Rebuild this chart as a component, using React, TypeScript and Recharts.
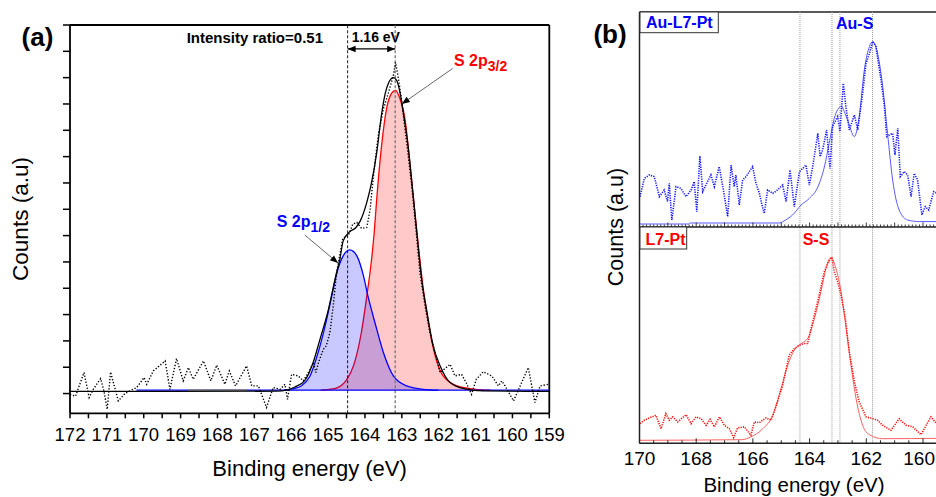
import React from 'react';
import { ComposedChart, Line, Area, XAxis, YAxis, ReferenceLine } from 'recharts';

// ---------------- Panel (a) data : [binding energy (eV), counts (a.u.)] ----------------
const rawA: number[][] = [
  [172.0, -0.03], [171.85, -0.1], [171.62, 0.8], [171.48, -0.15], [171.37, 0.16], [171.17, 0.57], [171.08, 0.1],
  [170.99, -0.6], [170.9, 0.82], [170.69, -0.28], [170.51, 0.0], [170.35, 0.12], [170.19, 0.23], [169.99, 0.61],
  [169.92, 0.35], [169.74, 0.86], [169.42, 1.24], [169.29, 0.16], [169.11, 1.33], [168.93, 0.48], [168.79, 0.99],
  [168.66, 0.54], [168.38, 1.24], [168.18, 0.48], [168.02, 1.08], [167.8, 0.35], [167.68, 0.86], [167.51, 0.29],
  [167.21, 1.05], [167.07, 0.29], [166.89, 0.29], [166.67, -0.53], [166.49, 0.23], [166.3, 0.16], [166.17, 0.35],
  [166.1, -0.22], [165.99, 0.73], [165.81, 0.67], [165.67, 0.48], [165.49, 0.92], [165.4, 1.18], [165.33, 0.8],
  [165.26, 1.18], [165.13, 1.68], [165.05, 1.81], [164.95, 2.32], [164.86, 3.33], [164.77, 4.6], [164.6, 5.9],
  [164.45, 6.0], [164.33, 6.44], [164.22, 6.5], [164.09, 6.27], [163.95, 6.31], [163.86, 7.0], [163.77, 8.27],
  [163.64, 9.8], [163.5, 10.81], [163.36, 11.44], [163.23, 12.08], [163.17, 12.58], [163.09, 11.95], [163.0, 11.06],
  [162.87, 9.54], [162.73, 7.89], [162.6, 5.99], [162.51, 4.6], [162.37, 3.33], [162.24, 2.32], [162.1, 1.56],
  [161.96, 0.8], [161.83, 0.95], [161.69, 1.11], [161.56, 0.67], [161.38, 0.73], [161.25, 0.4], [161.11, -0.03],
  [160.98, 0.54], [160.79, 0.83], [160.56, 0.67], [160.38, 0.29], [160.29, 0.48], [160.2, 0.29], [159.97, -0.28],
  [159.79, 0.29], [159.57, 0.99], [159.39, -0.34], [159.25, 0.29], [159.03, 0.35],
];

const envelopeA: number[][] = [
  [172.0, 0.08], [166.4, 0.09], [166.1, 0.14], [165.9, 0.25], [165.63, 0.5], [165.4, 1.2], [165.22, 2.06],
  [164.99, 3.2], [164.81, 4.35], [164.68, 5.1], [164.59, 5.8], [164.41, 6.15], [164.25, 6.3], [164.13, 6.55],
  [163.95, 7.26], [163.82, 8.02], [163.68, 9.16], [163.55, 10.6], [163.45, 11.4], [163.36, 11.8], [163.23, 12.0],
  [163.14, 11.9], [163.05, 11.44], [162.96, 10.68], [162.82, 9.29], [162.69, 7.5], [162.55, 5.5], [162.45, 4.2],
  [162.33, 3.2], [162.15, 1.81], [161.96, 1.05], [161.69, 0.42], [161.3, 0.18], [160.8, 0.1], [159.0, 0.08],
];

const s2p32: number[][] = [
  [165.2, 0.13], [164.8, 0.2], [164.5, 0.52], [164.3, 1.1], [164.1, 2.3], [163.95, 3.7], [163.82, 5.1],
  [163.75, 6.1], [163.68, 7.4], [163.55, 9.4], [163.41, 10.85], [163.28, 11.4], [163.17, 11.52], [163.05, 11.2],
  [162.91, 10.4], [162.78, 8.7], [162.64, 6.8], [162.42, 4.0], [162.28, 2.7], [162.1, 1.45], [161.88, 0.67],
  [161.5, 0.29], [161.0, 0.16], [160.6, 0.13],
];

const s2p12: number[][] = [
  [166.2, 0.13], [165.9, 0.2], [165.72, 0.3], [165.49, 0.67], [165.27, 1.56], [165.08, 2.57], [164.9, 3.71],
  [164.77, 4.55], [164.59, 5.23], [164.41, 5.46], [164.22, 5.23], [164.04, 4.47], [163.91, 3.65], [163.73, 2.7],
  [163.5, 1.56], [163.23, 0.67], [162.87, 0.29], [162.42, 0.16], [162.0, 0.13],
];

const baselineBlueA: number[][] = [[170.2, 0.13], [159.0, 0.13]];
const baselineGreyA: number[][] = [[168.8, 0.13], [167.2, 0.13]];
const componentBase = 0.13;

const xTicksA = [159, 159.5, 160, 160.5, 161, 161.5, 162, 162.5, 163, 163.5, 164, 164.5, 165, 165.5, 166, 166.5,
  167, 167.5, 168, 168.5, 169, 169.5, 170, 170.5, 171, 171.5, 172];
const yTicksA = [0, 1, 2, 3, 4, 5, 6, 7, 8, 9, 10, 11, 12, 13, 14];
const peakLinesA = [164.47, 163.18];

// ---------------- Panel (b) data ----------------
const rawTop: number[][] = [
  [169.98, 1.52], [169.83, 2.43], [169.65, 2.6], [169.48, 2.52], [169.3, 1.52], [169.13, 1.85], [169.01, 1.27],
  [168.95, 2.18], [168.86, 0.35], [168.71, 2.02], [168.54, 1.93], [168.36, 1.52], [168.18, 1.85], [168.07, 2.27],
  [167.98, 0.77], [167.87, 3.55], [167.77, 1.77], [167.63, 2.18], [167.48, 2.6], [167.36, 2.02], [167.19, 3.02],
  [167.04, 1.85], [166.89, 0.52], [166.77, 3.1], [166.66, 2.02], [166.6, 2.6], [166.48, 1.1], [166.36, 2.35],
  [166.24, 2.52], [166.01, 3.02], [165.89, 2.18], [165.77, 1.68], [165.68, 1.1], [165.6, 0.68], [165.48, 1.85],
  [165.3, 1.68], [165.13, 1.85], [164.95, 2.1], [164.83, 1.27], [164.69, 2.85], [164.54, 1.02], [164.36, 2.77],
  [164.24, 2.93], [164.13, 3.1], [164.01, 2.1], [163.89, 3.02], [163.71, 4.68], [163.63, 3.52], [163.54, 3.85],
  [163.4, 4.85], [163.28, 2.93], [163.19, 5.02], [163.01, 5.52], [162.93, 4.77], [162.81, 7.18], [162.72, 6.02],
  [162.6, 4.85], [162.42, 5.6], [162.3, 4.85], [162.13, 6.68], [162.01, 8.18], [161.89, 8.68], [161.77, 9.27],
  [161.66, 9.02], [161.48, 7.35], [161.36, 6.02], [161.28, 4.52], [161.19, 4.6], [161.07, 4.68], [160.99, 3.6],
  [160.89, 4.93], [160.8, 2.52], [160.66, 2.77], [160.54, 2.6], [160.42, 1.52], [160.31, 2.68], [160.19, 2.35],
  [160.04, 0.6], [159.92, 1.02], [159.8, 0.85], [159.62, 1.77], [159.5, 1.68],
];

const fitTop: number[][] = [
  [170.0, 0.15], [168.26, 0.15], [168.22, 0.2], [165.07, 0.2], [164.85, 0.35], [164.6, 0.6], [164.3, 1.1],
  [164.01, 1.43], [163.71, 2.0], [163.48, 3.0], [163.31, 4.18], [163.13, 5.43], [162.89, 6.02], [162.66, 5.35],
  [162.42, 4.52], [162.25, 5.52], [162.07, 7.85], [161.89, 9.02], [161.77, 9.27], [161.63, 8.85], [161.42, 7.02],
  [161.25, 4.68], [161.07, 2.35], [160.84, 0.85], [160.54, 0.35], [160.13, 0.27], [159.4, 0.27],
];

const rawBottom: number[][] = [
  [169.98, 0.98], [169.83, 1.15], [169.65, 1.27], [169.42, 1.4], [169.24, 0.73], [169.07, 1.48], [168.95, 1.15],
  [168.83, 1.32], [168.65, 1.07], [168.36, 1.43], [168.18, 0.98], [168.01, 1.32], [167.83, 1.23], [167.65, 0.9],
  [167.51, 1.2], [167.36, 0.82], [167.18, 1.32], [167.01, 0.9], [166.83, 0.73], [166.68, 0.28], [166.54, 0.77],
  [166.3, 0.82], [166.07, 0.4], [165.95, 1.07], [165.77, 1.03], [165.54, 1.27], [165.36, 1.15], [165.19, 1.82],
  [164.95, 2.9], [164.72, 4.4], [164.54, 4.73], [164.36, 4.9], [164.19, 4.98], [164.07, 4.98], [163.89, 6.07],
  [163.66, 7.4], [163.48, 8.57], [163.33, 9.07], [163.21, 9.28], [163.13, 8.57], [163.01, 8.07], [162.89, 7.4],
  [162.74, 6.23], [162.6, 4.57], [162.42, 3.07], [162.25, 2.07], [162.01, 1.32], [161.77, 1.23], [161.6, 1.15],
  [161.42, 0.9], [161.13, 0.65], [160.84, 1.23], [160.6, 0.9], [160.36, 0.82], [160.07, 0.43], [159.89, 0.9],
  [159.72, 1.32], [159.54, 1.02],
];

const fitBottom: number[][] = [
  [170.0, 0.15], [166.4, 0.18], [166.07, 0.32], [165.65, 0.73], [165.3, 1.4], [165.01, 2.73], [164.77, 3.9],
  [164.54, 4.65], [164.3, 4.98], [164.07, 5.23], [163.83, 6.23], [163.6, 7.57], [163.42, 8.73], [163.25, 9.28],
  [163.07, 8.73], [162.89, 7.57], [162.71, 5.73], [162.54, 3.9], [162.36, 2.23], [162.13, 0.9], [161.89, 0.43],
  [161.42, 0.23], [159.4, 0.25],
];

const refLinesB = [164.34, 163.21, 162.93, 161.78];
const xLabelTicksB = [160, 162, 164, 166, 168, 170];
const xHalfTicksB = [159.5, 160, 160.5, 161, 161.5, 162, 162.5, 163, 163.5, 164, 164.5, 165, 165.5, 166, 166.5,
  167, 167.5, 168, 168.5, 169, 169.5, 170];
const xFineTicksB = Array.from({ length: 85 }, (_, i) => 159.5 + i * 0.125);

const toPts = (arr: number[][]) => arr.map(([e, v]) => ({ e, v }));

const FONT = '"Liberation Sans", Arial, sans-serif';

// ---------- custom tick renderers ----------
const TickA = (p: any) => {
  const { x, y, payload } = p;
  const v = payload.value as number;
  return (
    <g>
      <line x1={x} y1={y} x2={x} y2={y + 5} stroke="#000" strokeWidth={1.5} />
      {Number.isInteger(v) && (
        <text x={x} y={y + 28} textAnchor="middle" fontSize={18.5} fontFamily={FONT} fill="#000">
          {v}
        </text>
      )}
    </g>
  );
};

const TickAY = (p: any) => {
  const { x, y } = p;
  return <line x1={x} y1={y} x2={x - 7} y2={y} stroke="#000" strokeWidth={1.5} />;
};

const TickBTop = (p: any) => {
  const { x, y, payload } = p;
  const v = payload.value as number;
  const len = Number.isInteger(v) ? 4.5 : 2.5;
  return <line x1={x} y1={y} x2={x} y2={y - len} stroke="#222" strokeWidth={0.9} />;
};

const TickBBottom = (p: any) => {
  const { x, y, payload } = p;
  const v = payload.value as number;
  const isLabel = xLabelTicksB.includes(v);
  // the last label sits at the window edge: keep it fully inside
  const atEdge = v === xLabelTicksB[0];
  return (
    <g>
      <line x1={x} y1={y} x2={x} y2={y - (isLabel ? 5 : 3)} stroke="#222" strokeWidth={1} />
      {isLabel && (
        <text
          x={atEdge ? 935 - 580 : x}
          y={y + 21.8}
          textAnchor={atEdge ? 'end' : 'middle'}
          fontSize={19}
          fontFamily={FONT}
          fill="#000"
        >
          {v}
        </text>
      )}
    </g>
  );
};

const makeArrow = (double: boolean) => (p: any) => {
  const { x1, y1, x2, y2 } = p;
  const dx = x2 - x1;
  const dy = y2 - y1;
  const len = Math.hypot(dx, dy) || 1;
  const ux = dx / len;
  const uy = dy / len;
  const hl = 8;
  const hw = 3.2;
  const head = (tx: number, ty: number, vx: number, vy: number) =>
    `M${tx},${ty} L${tx - vx * hl - vy * hw},${ty - vy * hl + vx * hw} L${tx - vx * hl + vy * hw},${ty - vy * hl - vx * hw} Z`;
  return (
    <g>
      <line x1={x1} y1={y1} x2={x2} y2={y2} stroke={double ? '#000' : '#555'} strokeWidth={double ? 1.3 : 0.9} />
      <path d={head(x2, y2, ux, uy)} fill="#000" />
      {double && <path d={head(x1, y1, -ux, -uy)} fill="#000" />}
    </g>
  );
};

function PanelA() {
  return (
    <ComposedChart width={575} height={497} margin={{ top: 25, right: 25.7, bottom: 82.7, left: 69 }}>
      <XAxis
        dataKey="e"
        type="number"
        domain={[159, 172]}
        reversed
        allowDataOverflow
        ticks={xTicksA}
        interval={0}
        height={1}
        tickSize={0}
        tickMargin={0}
        tickLine={false}
        tick={<TickA />}
        axisLine={{ stroke: '#000', strokeWidth: 1.8 }}
      />
      <YAxis
        type="number"
        domain={[-0.75, 14]}
        allowDataOverflow
        ticks={yTicksA}
        interval={0}
        width={1}
        tickSize={0}
        tickMargin={0}
        tickLine={false}
        tick={<TickAY />}
        axisLine={{ stroke: '#000', strokeWidth: 1.8 }}
      />
      <ReferenceLine y={14} stroke="#000" strokeWidth={1.8} />
      <ReferenceLine x={159} stroke="#000" strokeWidth={1.8} />
      <ReferenceLine x={peakLinesA[0]} stroke="#000" strokeWidth={0.9} strokeDasharray="3 2" />
      <ReferenceLine x={peakLinesA[1]} stroke="#777" strokeWidth={1.3} strokeDasharray="3 2" />
      <Line data={toPts(baselineBlueA)} dataKey="v" stroke="#0000ff" strokeWidth={1.3} dot={false} activeDot={false} isAnimationActive={false} />
      <Line data={toPts(baselineGreyA)} dataKey="v" stroke="#808080" strokeWidth={1.6} dot={false} activeDot={false} isAnimationActive={false} />
      <Area
        data={toPts(s2p32)}
        dataKey="v"
        type="monotone"
        baseValue={componentBase}
        stroke="#ff0000"
        strokeWidth={1.3}
        fill="#ff0000"
        fillOpacity={0.21}
        dot={false}
        activeDot={false}
        isAnimationActive={false}
      />
      <Area
        data={toPts(s2p12)}
        dataKey="v"
        type="monotone"
        baseValue={componentBase}
        stroke="#0000ff"
        strokeWidth={1.3}
        fill="#0000ff"
        fillOpacity={0.21}
        dot={false}
        activeDot={false}
        isAnimationActive={false}
      />
      <Line data={toPts(envelopeA)} dataKey="v" type="monotone" stroke="#000" strokeWidth={1.3} dot={false} activeDot={false} isAnimationActive={false} />
      <Line data={toPts(rawA)} dataKey="v" type="linear" stroke="#000" strokeWidth={1.4} strokeDasharray="1.3 1.8" dot={false} activeDot={false} isAnimationActive={false} />
      <ReferenceLine segment={[{ x: peakLinesA[0], y: 13.09 }, { x: peakLinesA[1], y: 13.09 }]} shape={makeArrow(true)} />
      <ReferenceLine segment={[{ x: 161.62, y: 12.35 }, { x: 163.0, y: 11.0 }]} shape={makeArrow(false)} />
      <ReferenceLine segment={[{ x: 165.63, y: 6.02 }, { x: 164.73, y: 4.96 }]} shape={makeArrow(false)} />
    </ComposedChart>
  );
}

function PanelBTop() {
  return (
    <ComposedChart width={370} height={240} margin={{ top: 12, right: 10, bottom: 12, left: 58.5 }}>
      <XAxis
        dataKey="e"
        type="number"
        domain={[159.4, 170]}
        reversed
        allowDataOverflow
        ticks={xFineTicksB}
        interval={0}
        height={1}
        tickSize={0}
        tickMargin={0}
        tickLine={false}
        tick={<TickBTop />}
        axisLine={{ stroke: '#222', strokeWidth: 1.5 }}
      />
      <YAxis type="number" domain={[0, 10.75]} allowDataOverflow width={1} tick={false} tickLine={false} axisLine={{ stroke: '#222', strokeWidth: 1.5 }} />
      <ReferenceLine y={10.75} stroke="#222" strokeWidth={1.5} />
      {refLinesB.map((x) => (
        <ReferenceLine key={x} x={x} stroke="#999" strokeWidth={1} strokeDasharray="1 1" />
      ))}
      <Line data={toPts(fitTop)} dataKey="v" type="monotone" stroke="#5a5aff" strokeWidth={1} dot={false} activeDot={false} isAnimationActive={false} />
      <Line data={toPts(rawTop)} dataKey="v" type="linear" stroke="#1515ff" strokeWidth={1.6} strokeDasharray="1.2 1.2" dot={false} activeDot={false} isAnimationActive={false} />
    </ComposedChart>
  );
}

function PanelBBottom() {
  return (
    <ComposedChart width={370} height={497} margin={{ top: 227, right: 10, bottom: 52.7, left: 58.5 }}>
      <XAxis
        dataKey="e"
        type="number"
        domain={[159.4, 170]}
        reversed
        allowDataOverflow
        ticks={xHalfTicksB}
        interval={0}
        height={1}
        tickSize={0}
        tickMargin={0}
        tickLine={false}
        tick={<TickBBottom />}
        axisLine={{ stroke: '#222', strokeWidth: 1.5 }}
      />
      <YAxis type="number" domain={[0, 10.8]} allowDataOverflow width={1} tick={false} tickLine={false} axisLine={{ stroke: '#222', strokeWidth: 1.5 }} />
      {refLinesB.map((x) => (
        <ReferenceLine key={x} x={x} stroke="#999" strokeWidth={1} strokeDasharray="1 1" />
      ))}
      <Line data={toPts(fitBottom)} dataKey="v" type="monotone" stroke="#ff6060" strokeWidth={1} dot={false} activeDot={false} isAnimationActive={false} />
      <Line data={toPts(rawBottom)} dataKey="v" type="linear" stroke="#ff1010" strokeWidth={1.6} strokeDasharray="1.2 1.2" dot={false} activeDot={false} isAnimationActive={false} />
    </ComposedChart>
  );
}

function Overlay() {
  const bold = { fontFamily: FONT, fontWeight: 700 } as const;
  return (
    <svg width={936} height={497} style={{ position: 'absolute', left: 0, top: 0, pointerEvents: 'none' }}>
      <text x={37.5} y={46} textAnchor="middle" fontSize={26} {...bold} fill="#000">(a)</text>
      <text x={610} y={43} textAnchor="middle" fontSize={26} {...bold} fill="#000">(b)</text>
      <text x={28} y={219} transform="rotate(-90 28 219)" textAnchor="middle" fontSize={22.5} fontFamily={FONT} fill="#000">Counts (a.u)</text>
      <text x={623} y={227} transform="rotate(-90 623 227)" textAnchor="middle" fontSize={21.5} fontFamily={FONT} fill="#000">Counts (a.u)</text>
      <text x={309.6} y={476} textAnchor="middle" fontSize={22} fontFamily={FONT} fill="#000">Binding energy (eV)</text>
      <text x={794} y={491.5} textAnchor="middle" fontSize={20.5} fontFamily={FONT} fill="#000">Binding energy (eV)</text>
      <text x={186.7} y={43.2} fontSize={15} {...bold} fill="#000">Intensity ratio=0.51</text>
      <text x={351.7} y={41.7} fontSize={14} {...bold} fill="#000">1.16 eV</text>
      <text x={454} y={65.7} fontSize={16} {...bold} fill="#ff0000">
        S 2p<tspan fontSize={14} dy={5}>3/2</tspan>
      </text>
      <text x={276.7} y={226.6} fontSize={16} {...bold} fill="#0000ff">
        S 2p<tspan fontSize={14} dy={5}>1/2</tspan>
      </text>
      <rect x={640} y={12} width={78.3} height={20.7} fill="#fff" stroke="#333" strokeWidth={1} />
      <text x={646} y={28.3} fontSize={16} {...bold} fill="#0000ff">Au-L7-Pt</text>
      <text x={836} y={29.3} fontSize={16} {...bold} fill="#0000ff">Au-S</text>
      <rect x={640} y={227} width={46.7} height={22} fill="#fff" stroke="#333" strokeWidth={1} />
      <text x={645.5} y={245} fontSize={16} {...bold} fill="#ff0000">L7-Pt</text>
      <text x={802.7} y={245} fontSize={16} {...bold} fill="#ff0000">S-S</text>
    </svg>
  );
}

export default function App() {
  return (
    <div
      style={{
        position: 'absolute',
        left: 0,
        top: 0,
        width: 936,
        height: 497,
        overflow: 'hidden',
        background: '#fff',
        fontFamily: FONT,
      }}
    >
      <div style={{ position: 'absolute', left: 0, top: 0 }}>
        <PanelA />
      </div>
      <div style={{ position: 'absolute', left: 580, top: 0 }}>
        <PanelBBottom />
      </div>
      <div style={{ position: 'absolute', left: 580, top: 0 }}>
        <PanelBTop />
      </div>
      <Overlay />
    </div>
  );
}
